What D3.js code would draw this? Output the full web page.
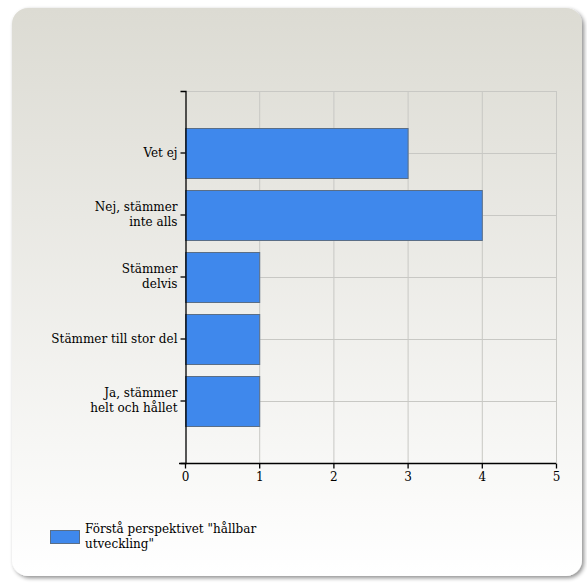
<!DOCTYPE html>
<html><head><meta charset="utf-8">
<script src="https://cdn.jsdelivr.net/npm/d3@7"></script>
<style>body{margin:0;background:#fff;} svg{display:block;}</style>
</head><body>
<svg id="c" width="587" height="584"></svg>
<script>
(function(){
const categories = ["Vet ej", "Nej, stämmer inte alls", "Stämmer delvis", "Stämmer till stor del", "Ja, stämmer helt och hållet"];
const labelLines = [["Vet ej"], ["Nej, stämmer", "inte alls"], ["Stämmer", "delvis"], ["Stämmer till stor del"], ["Ja, stämmer", "helt och hållet"]];
const values = [3, 4, 1, 1, 1];
const xTicks = [0, 1, 2, 3, 4, 5];
const seriesName = ["Förstå perspektivet \"hållbar", "utveckling\""];

const svg = d3.select("#c");
const defs = svg.append("defs");
const g1 = defs.append("linearGradient").attr("id","bg").attr("x1",0).attr("y1",0).attr("x2",0).attr("y2",1);
g1.append("stop").attr("offset","0%").attr("stop-color","#dcdbd3");
g1.append("stop").attr("offset","100%").attr("stop-color","#ffffff");
const f = defs.append("filter").attr("id","sh").attr("x","-5%").attr("y","-5%").attr("width","115%").attr("height","115%");
f.append("feGaussianBlur").attr("in","SourceAlpha").attr("stdDeviation",2);
f.append("feOffset").attr("dx",2).attr("dy",2).attr("result","b");
f.append("feComponentTransfer").append("feFuncA").attr("type","linear").attr("slope",0.45);
const m = f.append("feMerge"); m.append("feMergeNode"); m.append("feMergeNode").attr("in","SourceGraphic");

svg.append("rect").attr("x",12).attr("y",8).attr("width",570).attr("height",568)
  .attr("rx",16).attr("fill","url(#bg)").attr("filter","url(#sh)");

const pL = 185, pR = 556, pT = 91, pB = 463;
const x = d3.scaleLinear().domain([0,5]).range([pL,pR]);
const y = d3.scaleBand().domain(categories).range([pT,pB]).paddingInner(0.2).paddingOuter(0.6);

const grid = svg.append("g");
grid.selectAll(".vg").data(xTicks.slice(1)).join("line")
  .attr("x1",d=>x(d)+0.5).attr("x2",d=>x(d)+0.5).attr("y1",pT).attr("y2",pB)
  .attr("stroke","#c8c8c4").attr("stroke-width",1);
grid.append("line").attr("x1",pL).attr("x2",pR).attr("y1",pT+0.5).attr("y2",pT+0.5)
  .attr("stroke","#c8c8c4");
grid.selectAll(".hg").data(categories).join("line")
  .attr("x1",pL).attr("x2",pR)
  .attr("y1",d=>Math.round(y(d)+y.bandwidth()/2)+0.5).attr("y2",d=>Math.round(y(d)+y.bandwidth()/2)+0.5)
  .attr("stroke","#c8c8c4");

svg.append("g").selectAll("rect").data(categories).join("rect")
  .attr("x",x(0)+0.5).attr("y",d=>Math.round(y(d))+0.5)
  .attr("width",(d,i)=>x(values[i])-x(0)).attr("height",Math.round(y.bandwidth()))
  .attr("fill","#3f88ec").attr("stroke","#5a6e86").attr("stroke-width",1);

const font = "'DejaVu Serif', serif";

const ya = svg.append("g").attr("transform",`translate(${pL+0.5},0)`)
  .call(d3.axisLeft(y).tickSize(5).tickSizeOuter(5).tickFormat(""));
ya.selectAll("path, line").attr("stroke","#000").attr("stroke-width",1.3);
ya.selectAll(".tick").each(function(d,i){
  const t = d3.select(this).append("text").attr("fill","#000")
    .attr("text-anchor","end").attr("x",-8)
    .style("font-family",font).style("font-size","12px");
  const lines = labelLines[i];
  const n = lines.length;
  lines.forEach((l,j)=>{
    t.append("tspan").attr("x",-8).attr("y",(j-(n-1)/2)*15).attr("dy","0.32em").text(l);
  });
});

const xa = svg.append("g").attr("transform",`translate(0,${pB+0.5})`)
  .call(d3.axisBottom(x).tickValues(xTicks).tickFormat(d3.format("d")).tickSize(5).tickSizeOuter(5));
xa.selectAll("path, line").attr("stroke","#000").attr("stroke-width",1.3);
xa.select(".domain").attr("d",`M${pL-6},0H${pR}`);
xa.selectAll("text").attr("fill","#000").attr("y",9)
  .style("font-family",font).style("font-size","12px");

const lg = svg.append("g");
lg.append("rect").attr("x",50.5).attr("y",530.5).attr("width",29).attr("height",13)
  .attr("fill","#3f88ec").attr("stroke","#5a6e86");
const lt = lg.append("text").attr("fill","#000").style("font-family",font).style("font-size","12px");
seriesName.forEach((l,j)=>lt.append("tspan").attr("x",85).attr("y",533+j*15).text(l));
})();
</script>
</body></html>
